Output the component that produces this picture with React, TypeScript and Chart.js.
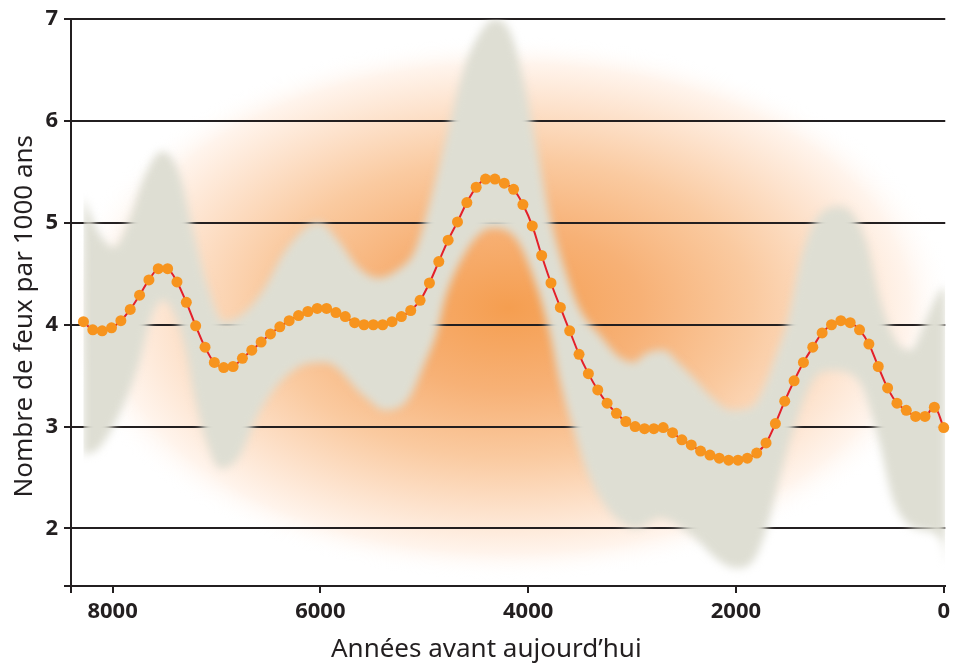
import React, { useEffect, useRef } from 'react';
import { Chart, registerables } from 'chart.js';

// Years before present (x) and fire counts per 1000 years (y)
const YEARS = [
  8280, 8190, 8100, 8010, 7920, 7830, 7740, 7650, 7560, 7470,
  7380, 7290, 7200, 7110, 7020, 6930, 6840, 6750, 6660, 6570,
  6480, 6390, 6300, 6210, 6120, 6030, 5940, 5850, 5760, 5670,
  5580, 5490, 5400, 5310, 5220, 5130, 5040, 4950, 4860, 4770,
  4680, 4590, 4500, 4410, 4320, 4230, 4140, 4050, 3960, 3870,
  3780, 3690, 3600, 3510, 3420, 3330, 3240, 3150, 3060, 2970,
  2880, 2790, 2700, 2610, 2520, 2430, 2340, 2250, 2160, 2070,
  1980, 1890, 1800, 1710, 1620, 1530, 1440, 1350, 1260, 1170,
  1080, 990, 900, 810, 720, 630, 540, 450, 360, 270,
  180, 90, 0,
];
const FIRES = [
  4.03, 3.95, 3.94, 3.97, 4.04, 4.15, 4.29, 4.44, 4.55, 4.55,
  4.42, 4.22, 3.99, 3.78, 3.63, 3.58, 3.59, 3.67, 3.75, 3.83,
  3.91, 3.98, 4.04, 4.09, 4.13, 4.16, 4.16, 4.12, 4.08, 4.02,
  4.00, 4.00, 4.00, 4.03, 4.08, 4.14, 4.24, 4.41, 4.62, 4.83,
  5.01, 5.20, 5.35, 5.43, 5.43, 5.39, 5.33, 5.18, 4.97, 4.68,
  4.41, 4.17, 3.94, 3.71, 3.52, 3.36, 3.23, 3.13, 3.05, 3.00,
  2.98, 2.98, 2.99, 2.94, 2.87, 2.82, 2.76, 2.72, 2.69, 2.67,
  2.67, 2.69, 2.74, 2.84, 3.03, 3.25, 3.45, 3.63, 3.78, 3.92,
  4.00, 4.04, 4.02, 3.95, 3.81, 3.59, 3.38, 3.23, 3.16, 3.10,
  3.10, 3.19, 2.99,
];

// Confidence band: upper bound
const UPPER_YEARS = [
  8280, 8130, 7985, 7840, 7695, 7525, 7360, 7220, 7075, 6930,
  6740, 6550, 6355, 6165, 6020, 5830, 5640, 5445, 5255, 5090,
  4940, 4775, 4610, 4420, 4325, 4170, 4040, 3915, 3790, 3655,
  3500, 3310, 3120, 2985, 2860, 2695, 2545, 2380, 2235, 2045,
  1850, 1730, 1595, 1500, 1375, 1230, 990, 750, 610, 465,
  320, 175, 30, -15,
];
const UPPER = [
  5.25, 4.90, 4.76, 5.03, 5.45, 5.70, 5.49, 4.90, 4.34, 4.03,
  4.11, 4.34, 4.70, 4.93, 5.01, 4.83, 4.57, 4.46, 4.54, 4.73,
  5.23, 5.89, 6.54, 6.93, 7.00, 6.87, 6.38, 5.72, 5.06, 4.57,
  4.15, 3.90, 3.68, 3.63, 3.72, 3.75, 3.62, 3.45, 3.29, 3.16,
  3.19, 3.38, 3.75, 4.04, 4.64, 5.03, 5.16, 4.83, 4.24, 3.85,
  3.75, 4.04, 4.34, 4.36,
];
// Confidence band: lower bound
const LOWER_YEARS = [
  8280, 8130, 7935, 7745, 7630, 7515, 7390, 7295, 7210, 7100,
  6965, 6785, 6595, 6375, 6115, 5955, 5570, 5380, 5160, 4995,
  4870, 4805, 4610, 4420, 4325, 4105, 3915, 3790, 3695, 3560,
  3435, 3270, 3120, 2955, 2735, 2405, 2160, 1995, 1835, 1710,
  1585, 1450, 1260, 1070, 820, 625, 495, 340, 175, 10,
  -15,
];
const LOWER = [
  2.72, 2.79, 3.12, 3.62, 4.07, 4.24, 4.07, 3.75, 3.29, 2.86,
  2.59, 2.70, 3.13, 3.45, 3.62, 3.63, 3.29, 3.16, 3.26, 3.62,
  3.95, 4.24, 4.70, 4.93, 4.95, 4.83, 4.37, 3.91, 3.45, 2.96,
  2.57, 2.24, 2.07, 2.00, 2.10, 1.91, 1.68, 1.61, 1.68, 1.98,
  2.47, 2.96, 3.45, 3.55, 3.45, 2.86, 2.30, 2.04, 1.98, 1.85,
  1.65,
];

const X_TICKS = [8400, 8000, 6000, 4000, 2000, 0];
const X_LABELED = [8000, 6000, 4000, 2000, 0];
const Y_TICKS = [1.435, 2, 3, 4, 5, 6, 7];
const Y_LABELED = [2, 3, 4, 5, 6, 7];
const X_TITLE = 'Années avant aujourd’hui';
const Y_TITLE = 'Nombre de feux par 1000 ans';

const INK = '#231f20';
const BAND = 'rgb(222,222,211)';

const bandBlur = {
  id: 'bandBlur',
  beforeDatasetDraw(chart: any, args: any) {
    if (args.index === 2) {
      chart.ctx.save();
      chart.ctx.filter = 'blur(4px)';
    }
  },
  afterDatasetDraw(chart: any, args: any) {
    if (args.index === 2) chart.ctx.restore();
  },
};

Chart.register(bandBlur as any, ...registerables);

const glow = {
  id: 'glow',
  beforeDraw(chart: any) {
    const { ctx, chartArea } = chart;
    const { left, top, right, bottom } = chartArea;
    const w = right - left;
    const h = bottom - top;
    const cx = left + 0.5 * w;
    const cy = top + 0.51 * h;
    const rx = 0.51 * w;
    const ry = 0.48 * h;
    ctx.save();
    ctx.beginPath();
    ctx.rect(left, top, w, h);
    ctx.clip();
    ctx.translate(cx, cy);
    ctx.scale(1, ry / rx);
    const g = ctx.createRadialGradient(0, 0, 0, 0, 0, rx);
    g.addColorStop(0, '#F59E50');
    g.addColorStop(0.3, '#F7B176');
    g.addColorStop(0.55, '#FACAA0');
    g.addColorStop(0.75, '#FDE2CC');
    g.addColorStop(0.9, '#FFF4EC');
    g.addColorStop(1, 'rgba(255,255,255,0)');
    ctx.fillStyle = g;
    ctx.fillRect(-rx, -rx, 2 * rx, 2 * rx);
    ctx.restore();
  },
};

const titles = {
  id: 'titles',
  afterDraw(chart: any) {
    const { ctx, chartArea } = chart;
    const { left, right, top, bottom } = chartArea;
    ctx.save();
    ctx.fillStyle = INK;
    ctx.font = '26px "Noto Sans"';
    ctx.textAlign = 'center';
    ctx.textBaseline = 'middle';
    ctx.fillText(X_TITLE, left + 0.475 * (right - left), bottom + 64);
    ctx.translate(25, top + 0.524 * (bottom - top));
    ctx.rotate(-Math.PI / 2);
    ctx.fillText(Y_TITLE, 0, 0);
    ctx.restore();
  },
};

export default function App() {
  const ref = useRef<HTMLCanvasElement>(null);
  useEffect(() => {
    const chart = new Chart(ref.current as HTMLCanvasElement, {
      type: 'line',
      data: {
        datasets: [
          {
            data: YEARS.map((x, i) => ({ x, y: FIRES[i] })),
            borderColor: '#E4202A',
            borderWidth: 2,
            pointRadius: 5.5,
            pointBackgroundColor: '#F7941E',
            pointBorderWidth: 0,
            pointBorderColor: '#F7941E',
            tension: 0.4,
            fill: false,
            clip: false as any,
          },
          {
            data: UPPER_YEARS.map((x, i) => ({ x, y: UPPER[i] })),
            borderWidth: 0,
            borderColor: 'rgba(0,0,0,0)',
            pointRadius: 0,
            cubicInterpolationMode: 'monotone',
            fill: false,
          },
          {
            data: LOWER_YEARS.map((x, i) => ({ x, y: LOWER[i] })),
            borderWidth: 0,
            borderColor: 'rgba(0,0,0,0)',
            backgroundColor: BAND,
            pointRadius: 0,
            cubicInterpolationMode: 'monotone',
            fill: '-1',
          },
        ],
      },
      options: {
        responsive: false,
        animation: false,
        devicePixelRatio: 1,
        events: [],
        layout: { padding: { top: 19, right: 6, bottom: 0, left: 0 } },
        plugins: {
          legend: { display: false },
          tooltip: { enabled: false },
        },
        scales: {
          x: {
            type: 'linear',
            reverse: true,
            min: -15,
            max: 8400,
            afterBuildTicks: (s: any) => {
              s.ticks = X_TICKS.map((v) => ({ value: v }));
            },
            afterFit: (s: any) => {
              s.height = 78;
            },
            ticks: {
              autoSkip: false,
              maxRotation: 0,
              padding: 6,
              color: INK,
              font: { family: '"Noto Sans"', size: 22, weight: 'bold' },
              callback: (v: any) => (X_LABELED.includes(v) ? String(v) : ''),
            },
            grid: {
              drawOnChartArea: false,
              drawTicks: true,
              tickLength: 7,
              tickWidth: 2,
              tickColor: INK,
              color: INK,
              lineWidth: 2,
            },
            border: { display: true, color: INK, width: 2 },
          },
          y: {
            type: 'linear',
            min: 1.435,
            max: 7,
            afterBuildTicks: (s: any) => {
              s.ticks = Y_TICKS.map((v) => ({ value: v }));
            },
            afterFit: (s: any) => {
              s.width = 71;
            },
            ticks: {
              autoSkip: false,
              padding: 6,
              color: INK,
              font: { family: '"Noto Sans"', size: 22, weight: 'bold' },
              callback: (v: any) => (Y_LABELED.includes(v) ? String(v) : ''),
            },
            grid: {
              drawOnChartArea: true,
              drawTicks: true,
              tickLength: 7,
              tickWidth: 2,
              tickColor: INK,
              color: INK,
              lineWidth: 2,
            },
            border: { display: true, color: INK, width: 2 },
          },
        },
      } as any,
      plugins: [glow, titles],
    } as any);
    return () => chart.destroy();
  }, []);
  return (
    <div style={{ position: 'fixed', left: 0, top: 0, width: 956, height: 664, background: '#fff' }}>
      <canvas ref={ref} width={956} height={664} style={{ display: 'block' }} />
    </div>
  );
}
